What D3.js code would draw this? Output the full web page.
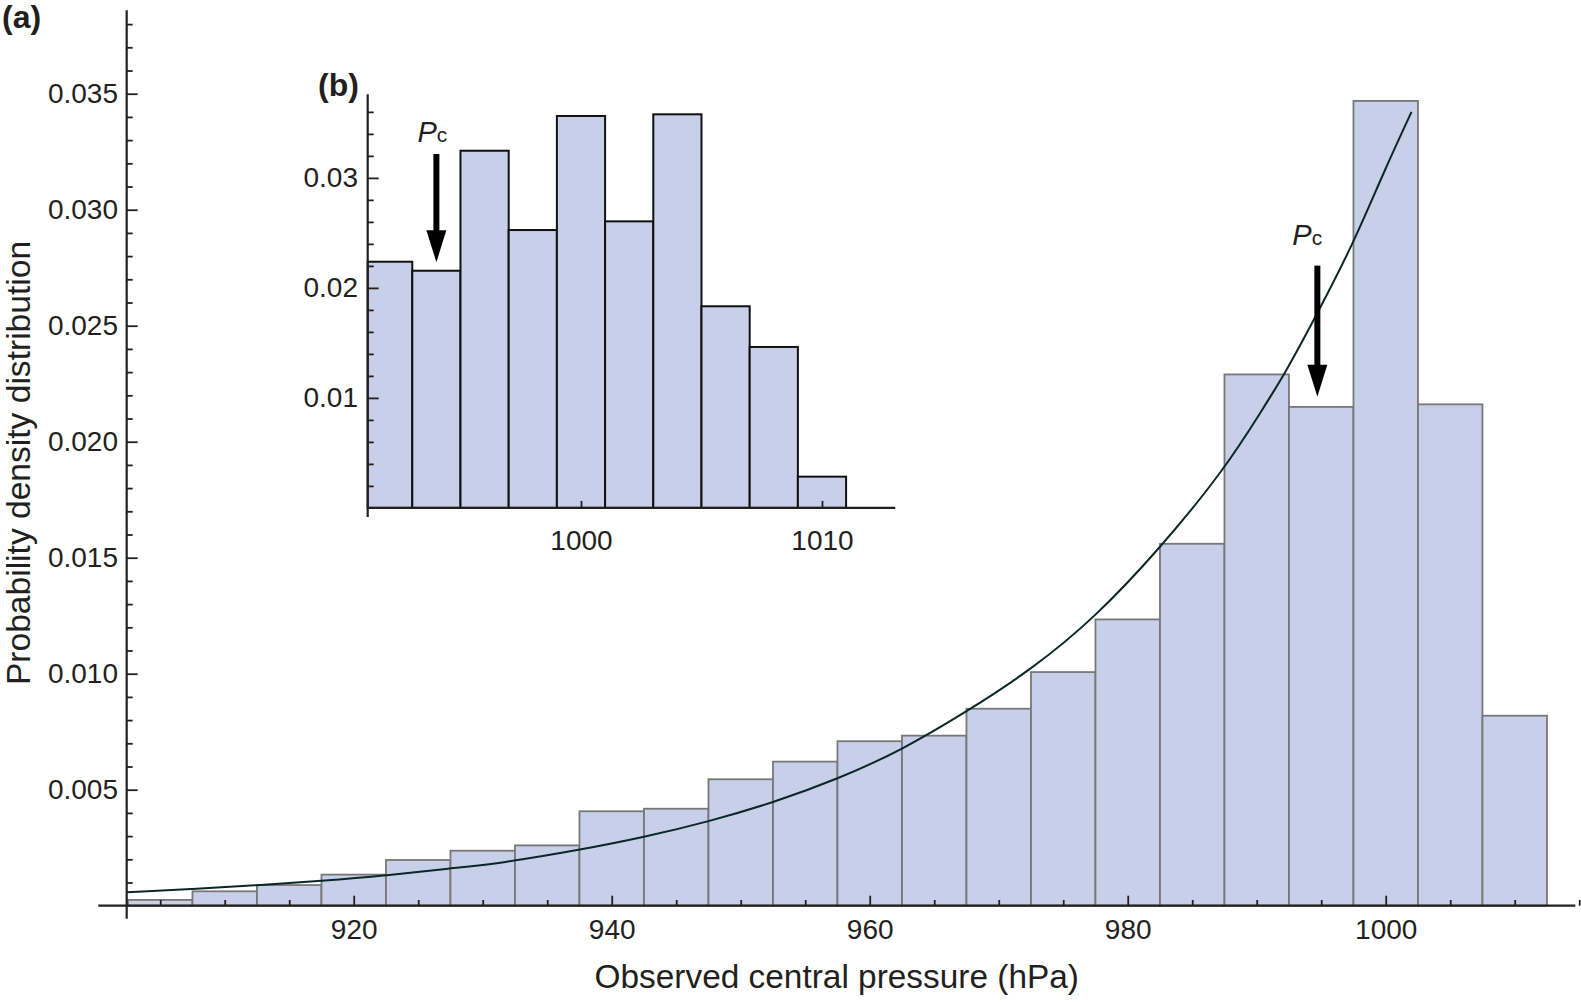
<!DOCTYPE html>
<html>
<head>
<meta charset="utf-8">
<script src="https://cdn.jsdelivr.net/npm/d3@7"></script>
<style>
  html, body { margin: 0; padding: 0; background: #fff; }
  text { font-family: "Liberation Sans", Arial, Helvetica, sans-serif; fill: #231f20; }
</style>
</head>
<body>
<div id="chart"></div>
<script>
// main histogram (a): 5 hPa bins, centres and densities
const mainBinCenters = [905, 910, 915, 920, 925, 930, 935, 940, 945, 950, 955,
  960, 965, 970, 975, 980, 985, 990, 995, 1000, 1005, 1010];
const mainDensity = [0.00025, 0.00062, 0.00089, 0.00134, 0.00197, 0.00237, 0.00260,
  0.00407, 0.00418, 0.00545, 0.00621, 0.00709, 0.00733, 0.00849, 0.01007, 0.01234,
  0.01560, 0.02290, 0.02150, 0.03469, 0.02161, 0.00819];

// fitted curve
const curvePressure = [902.4, 907.5, 912.5, 917.5, 922.5, 927.5, 931.4, 937.5, 942.5,
  947.5, 952.5, 957.5, 962.5, 967.5, 972.5, 977.5, 982.5, 987.5, 990.5, 992.2, 994.7,
  997.5, 999.8, 1002.0];
const curveDensity = [0.00058, 0.00072, 0.00088, 0.00107, 0.00130, 0.00161, 0.00183,
  0.00240, 0.00295, 0.00362, 0.00444, 0.00545, 0.00671, 0.00836, 0.01016, 0.01243,
  0.01540, 0.01880, 0.02144, 0.02295, 0.02553, 0.02855, 0.03157, 0.03422];

// inset histogram (b): 2 hPa bins
const insetBinCenters = [992, 994, 996, 998, 1000, 1002, 1004, 1006, 1008, 1010];
const insetDensity = [0.02238, 0.02156, 0.03247, 0.02526, 0.03563, 0.02605, 0.03578,
  0.01833, 0.01463, 0.00284];

// ticks
const mainXTicks = [920, 940, 960, 980, 1000];
const mainYTicks = [0.005, 0.010, 0.015, 0.020, 0.025, 0.030, 0.035];
const insetXTicks = [1000, 1010];
const insetYTicks = [0.01, 0.02, 0.03];

// Pc arrows: [pressure, shaft top, tip, label baseline]
const pcMain = [994.7, 0.02759, 0.02194, 0.02849];
const pcInset = [994.0, 0.03217, 0.02233, 0.03324];

const W = 1581, H = 1004;
const svg = d3.select("#chart").append("svg")
  .attr("width", W).attr("height", H);

const ink = "#231f20";

// ---------- main panel ----------
const x = d3.scaleLinear().domain([900.2, 1015]).range([98.3, 98.3 + 114.8 * 12.9]);
const y = d3.scaleLinear().domain([0, 0.0386]).range([905.7, 10.2]);
const xStart = 902.4;

svg.append("g").selectAll("rect")
  .data(mainBinCenters)
  .enter().append("rect")
  .attr("x", d => x(d - 2.5))
  .attr("width", x(7.5 + 900.2) - x(2.5 + 900.2))
  .attr("y", (d, i) => y(mainDensity[i]))
  .attr("height", (d, i) => y(0) - y(mainDensity[i]))
  .attr("fill", "#c8d0e9")
  .attr("stroke", "#777")
  .attr("stroke-width", 1.8);

// basis curve smooths the hand-read points
const curve = d3.line()
  .x(d => x(d[0])).y(d => y(d[1]))
  .curve(d3.curveBasis);
svg.append("path")
  .datum(curvePressure.map((p, i) => [p, curveDensity[i]]))
  .attr("d", curve)
  .attr("fill", "none")
  .attr("stroke", "#0b2626")
  .attr("stroke-width", 2);

// axes
const xMinor = d3.range(905, 1016, 5).filter(v => v % 20 !== 0);
svg.append("g")
  .attr("transform", `translate(0,${y(0)})`)
  .call(d3.axisBottom(x).tickValues(xMinor).tickSizeInner(-5.7).tickSizeOuter(0).tickFormat(""))
  .call(g => g.select(".domain").remove());
svg.append("g")
  .attr("transform", `translate(0,${y(0)})`)
  .call(d3.axisBottom(x).tickValues(mainXTicks).tickSizeInner(-10).tickSizeOuter(0)
    .tickPadding(13.7).tickFormat(d3.format("d")))
  .call(g => g.select(".domain").remove())
  .call(g => g.selectAll("text").attr("font-size", 28).attr("fill", ink));

const yMinor = d3.range(1, 39).filter(i => i % 5 !== 0).map(i => i / 1000);
svg.append("g")
  .attr("transform", `translate(${x(xStart)},0)`)
  .call(d3.axisLeft(y).tickValues(yMinor).tickSizeInner(-6).tickSizeOuter(0).tickFormat(""))
  .call(g => g.select(".domain").remove());
svg.append("g")
  .attr("transform", `translate(${x(xStart)},0)`)
  .call(d3.axisLeft(y).tickValues(mainYTicks).tickSizeInner(-11).tickSizeOuter(0)
    .tickPadding(8.7).tickFormat(d3.format(".3f")))
  .call(g => g.select(".domain").remove())
  .call(g => g.selectAll("text").attr("font-size", 28).attr("fill", ink));

svg.selectAll(".tick line").attr("stroke", ink).attr("stroke-width", 1.8);

svg.append("line")
  .attr("x1", x(900.2)).attr("x2", x(1014.7))
  .attr("y1", y(0)).attr("y2", y(0))
  .attr("stroke", ink).attr("stroke-width", 2.2);
svg.append("line")
  .attr("x1", x(xStart)).attr("x2", x(xStart))
  .attr("y1", y(0) + 13).attr("y2", y(0.0386))
  .attr("stroke", ink).attr("stroke-width", 2.2);

svg.append("text")
  .attr("x", (x(900.2) + x(1015)) / 2 - 2).attr("y", 988)
  .attr("text-anchor", "middle").attr("font-size", 33.4)
  .text("Observed central pressure (hPa)");
svg.append("text")
  .attr("transform", "translate(30,463) rotate(-90)")
  .attr("text-anchor", "middle").attr("font-size", 33.6)
  .text("Probability density distribution");

svg.append("text")
  .attr("x", 2).attr("y", 28)
  .attr("font-size", 32).attr("font-weight", "bold")
  .text("(a)");

// ---------- inset panel ----------
const xi = d3.scaleLinear().domain([991.15, 1013.04]).range([367.7, 367.7 + 21.89 * 24.1]);
const yi = d3.scaleLinear().domain([0, 0.0376]).range([507.9, 94.3]);

svg.append("g").selectAll("rect")
  .data(insetBinCenters)
  .enter().append("rect")
  .attr("x", d => xi(Math.max(d - 1, 991.15)))
  .attr("width", d => xi(d + 1) - xi(Math.max(d - 1, 991.15)))
  .attr("y", (d, i) => yi(insetDensity[i]))
  .attr("height", (d, i) => yi(0) - yi(insetDensity[i]))
  .attr("fill", "#c8d0e9")
  .attr("stroke", "#111")
  .attr("stroke-width", 2);

const inset = svg.append("g").attr("class", "inset");
inset.append("g")
  .attr("transform", `translate(0,${yi(0)})`)
  .call(d3.axisBottom(xi).tickValues(insetXTicks).tickSizeInner(-7).tickSizeOuter(0)
    .tickPadding(22).tickFormat(d3.format("d")))
  .call(g => g.select(".domain").remove())
  .call(g => g.selectAll("text").attr("font-size", 28).attr("fill", ink));

const yiMinor = d3.range(1, 19).filter(i => i % 5 !== 0).map(i => i / 500);
inset.append("g")
  .attr("transform", `translate(${xi(991.15)},0)`)
  .call(d3.axisLeft(yi).tickValues(yiMinor).tickSizeInner(-6).tickSizeOuter(0).tickFormat(""))
  .call(g => g.select(".domain").remove());
inset.append("g")
  .attr("transform", `translate(${xi(991.15)},0)`)
  .call(d3.axisLeft(yi).tickValues(insetYTicks).tickSizeInner(-11).tickSizeOuter(0)
    .tickPadding(9.7).tickFormat(d3.format(".2f")))
  .call(g => g.select(".domain").remove())
  .call(g => g.selectAll("text").attr("font-size", 28).attr("fill", ink));
inset.selectAll(".tick line").attr("stroke", ink).attr("stroke-width", 1.8);

inset.append("line")
  .attr("x1", xi(991.15)).attr("x2", xi(1013.04))
  .attr("y1", yi(0)).attr("y2", yi(0))
  .attr("stroke", ink).attr("stroke-width", 2.2);
inset.append("line")
  .attr("x1", xi(991.15)).attr("x2", xi(991.15))
  .attr("y1", yi(0) + 9).attr("y2", yi(0.0376))
  .attr("stroke", ink).attr("stroke-width", 2.2);

svg.append("text")
  .attr("x", 318).attr("y", 96)
  .attr("font-size", 32).attr("font-weight", "bold")
  .text("(b)");

// ---------- Pc arrows ----------
function drawArrow(sx, sy, pc, labelDx) {
  const ax = sx(pc[0]), top = sy(pc[1]), tip = sy(pc[2]);
  svg.append("line")
    .attr("x1", ax).attr("x2", ax)
    .attr("y1", top).attr("y2", tip - 20)
    .attr("stroke", "#000").attr("stroke-width", 6);
  svg.append("path")
    .attr("d", `M${ax - 10},${tip - 32} L${ax + 10},${tip - 32} L${ax},${tip} Z`)
    .attr("fill", "#000");
  const t = svg.append("text")
    .attr("x", ax + labelDx).attr("y", sy(pc[3]));
  t.append("tspan").attr("font-style", "italic").attr("font-size", 29).text("P");
  t.append("tspan").attr("font-size", 21).text("c");
}
drawArrow(x, y, pcMain, -25);
drawArrow(xi, yi, pcInset, -19);
</script>
</body>
</html>
